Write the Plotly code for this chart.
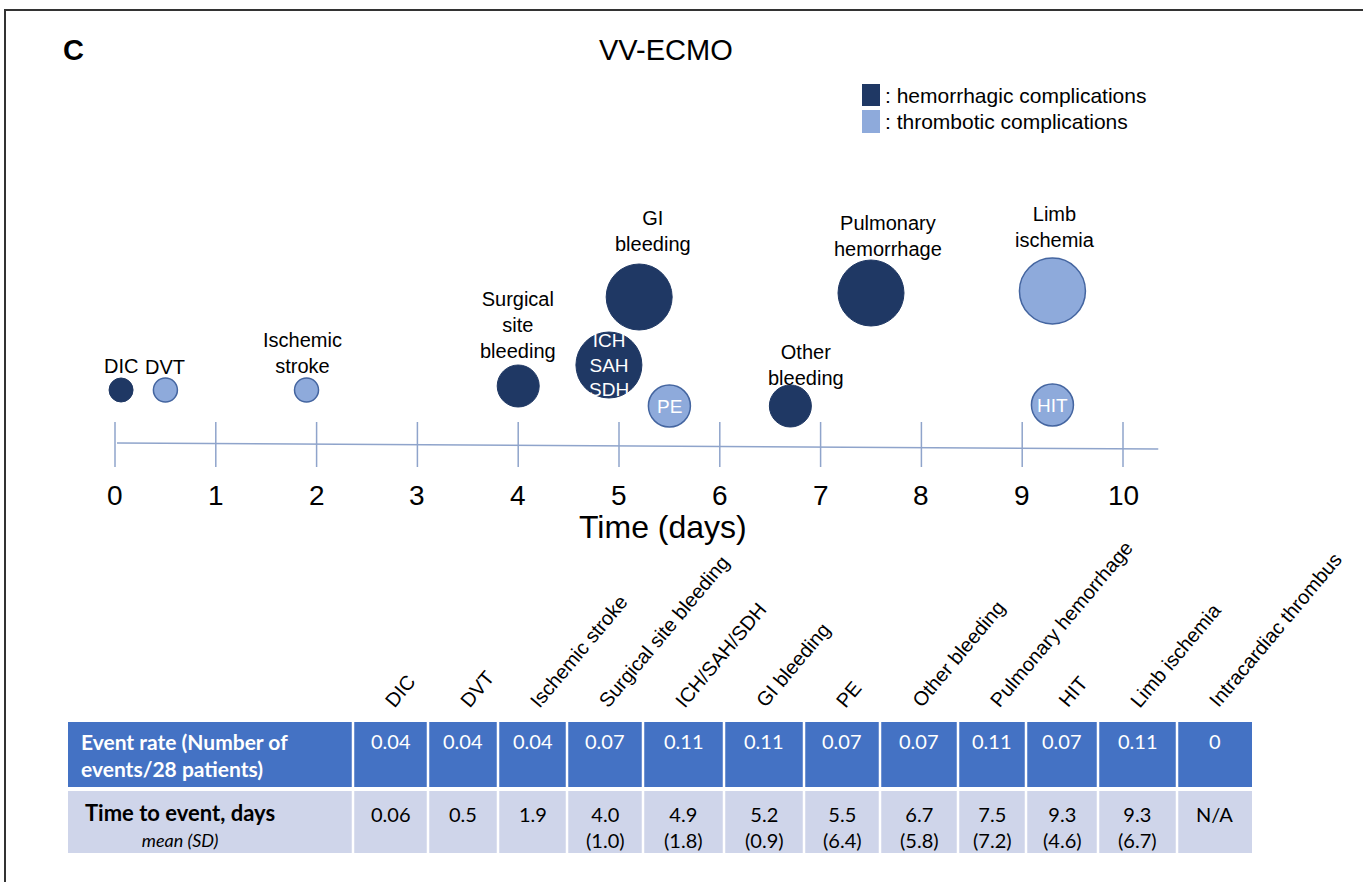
import plotly.graph_objects as go

W, H = 1363, 882

# ---- data -------------------------------------------------------------
events = ["DIC", "DVT", "Ischemic stroke", "Surgical site bleeding", "ICH/SAH/SDH",
          "GI bleeding", "PE", "Other bleeding", "Pulmonary hemorrhage", "HIT",
          "Limb ischemia", "Intracardiac thrombus"]
kind = ["hem", "thr", "thr", "hem", "hem", "hem", "thr", "hem", "hem", "thr", "thr", "thr"]
event_rate = [0.04, 0.04, 0.04, 0.07, 0.11, 0.11, 0.07, 0.07, 0.11, 0.07, 0.11, 0]
rate_text = ["0.04", "0.04", "0.04", "0.07", "0.11", "0.11", "0.07", "0.07", "0.11", "0.07", "0.11", "0"]
mean_days = [0.06, 0.5, 1.9, 4.0, 4.9, 5.2, 5.5, 6.7, 7.5, 9.3, 9.3, None]
sd_days = [None, None, None, 1.0, 1.8, 0.9, 6.4, 5.8, 7.2, 4.6, 6.7, None]
day_ticks = list(range(0, 11))

# ---- styling / placement ----------------------------------------------
DARK = "#1F3864"
LIGHT = "#8EAADB"
LIGHT_EDGE = "#4465A0"
AXIS_BLUE = "#8FA4CB"
ARIAL = "Liberation Sans, Arial, sans-serif"
TABLE_FONT = "Lato, Open Sans, sans-serif"

X0_PX, DAY_PX = 115, 100.8          # horizontal scale of the timeline


def xp(px):
    return px / W


# vertical placement of each bubble (figure pixels)
bubble_y = {"DIC": 390, "DVT": 390, "Ischemic stroke": 390, "Surgical site bleeding": 386,
            "ICH/SAH/SDH": 365, "GI bleeding": 297, "PE": 406, "Other bleeding": 406,
            "Pulmonary hemorrhage": 293, "HIT": 405, "Limb ischemia": 291}
# caption text, vertical centre, horizontal nudge in pixels
captions = {"DIC": ("DIC", 366, 0), "DVT": ("DVT", 367, 0),
            "Ischemic stroke": ("Ischemic<br>stroke", 353, -4),
            "Surgical site bleeding": ("Surgical<br>site<br>bleeding", 325, 0),
            "GI bleeding": ("GI<br>bleeding", 231, 14),
            "Other bleeding": ("Other<br>bleeding", 365, 16),
            "Pulmonary hemorrhage": ("Pulmonary<br>hemorrhage", 236, 17),
            "Limb ischemia": ("Limb<br>ischemia", 227, 3)}
inside = {"ICH/SAH/SDH": "ICH<br>SAH<br>SDH", "PE": "PE", "HIT": "HIT"}

fig = go.Figure()

# ---- bubbles -----------------------------------------------------------
for k, fill, edge, ew in [("hem", DARK, DARK, 1), ("thr", LIGHT, LIGHT_EDGE, 1.5)]:
    idx = [i for i in range(len(events)) if kind[i] == k and event_rate[i] > 0]
    fig.add_trace(go.Scatter(
        x=[mean_days[i] for i in idx],
        y=[bubble_y[events[i]] for i in idx],
        mode="markers",
        marker=dict(size=[event_rate[i] for i in idx], sizemode="diameter",
                    sizeref=1 / 600, color=fill, line=dict(color=edge, width=ew),
                    opacity=1),
        hoverinfo="skip", showlegend=False))

annotations = []
shapes = []

for i, ev in enumerate(events):
    if event_rate[i] == 0:
        continue
    if ev in captions:
        txt, yc, dx = captions[ev]
        annotations.append(dict(x=mean_days[i], y=yc, xref="x", yref="y", text=txt,
                                xshift=dx, showarrow=False,
                                font=dict(family=ARIAL, size=20, color="black"),
                                xanchor="center", yanchor="middle"))
    if ev in inside:
        annotations.append(dict(x=mean_days[i], y=bubble_y[ev], xref="x", yref="y",
                                text=inside[ev], showarrow=False,
                                font=dict(family=ARIAL, size=19, color="white"),
                                xanchor="center", yanchor="middle"))

# ---- timeline axis -----------------------------------------------------
shapes.append(dict(type="line", xref="x", yref="y", x0=0.02, x1=10.35, y0=443, y1=449,
                   line=dict(color=AXIS_BLUE, width=1.5)))
for d in day_ticks:
    shapes.append(dict(type="line", xref="x", yref="y", x0=d, x1=d, y0=422, y1=467,
                       line=dict(color=AXIS_BLUE, width=1.5)))
    annotations.append(dict(x=d, y=495, xref="x", yref="y", text=str(d), showarrow=False,
                            font=dict(family=ARIAL, size=28, color="black"),
                            xanchor="center", yanchor="middle"))
annotations.append(dict(x=xp(663), y=527, xref="paper", yref="y", text="Time (days)",
                        showarrow=False, font=dict(family=ARIAL, size=32, color="black"),
                        xanchor="center", yanchor="middle"))

# ---- titles and legend -------------------------------------------------
annotations.append(dict(x=xp(61), y=50, xref="paper", yref="y", text="<b>C</b>",
                        showarrow=False, font=dict(family=ARIAL, size=29, color="black"),
                        xanchor="left", yanchor="middle"))
annotations.append(dict(x=xp(666), y=50, xref="paper", yref="y", text="VV-ECMO",
                        showarrow=False, font=dict(family=ARIAL, size=29, color="black"),
                        xanchor="center", yanchor="middle"))
for (y0, y1, col, label) in [(84, 106, DARK, ": hemorrhagic complications"),
                             (110, 133, LIGHT, ": thrombotic complications")]:
    shapes.append(dict(type="rect", xref="paper", yref="y", x0=xp(862), x1=xp(880),
                       y0=y0, y1=y1, fillcolor=col, line=dict(width=0)))
    annotations.append(dict(x=xp(883), y=(y0 + y1) / 2, xref="paper", yref="y", text=label,
                            showarrow=False, font=dict(family=ARIAL, size=21, color="black"),
                            xanchor="left", yanchor="middle"))

# ---- summary table -----------------------------------------------------
col_edges = [68, 353, 428, 498, 567, 643, 724, 804, 880, 958, 1026, 1098, 1177, 1252]
ROW1 = (722, 787)
ROW2 = (791, 853)
shapes.append(dict(type="rect", xref="paper", yref="y", x0=xp(col_edges[0]),
                   x1=xp(col_edges[-1]), y0=ROW1[0], y1=ROW1[1],
                   fillcolor="#4472C4", line=dict(width=0), layer="below"))
shapes.append(dict(type="rect", xref="paper", yref="y", x0=xp(col_edges[0]),
                   x1=xp(col_edges[-1]), y0=ROW2[0], y1=ROW2[1],
                   fillcolor="#CFD5EA", line=dict(width=0), layer="below"))
for e in col_edges[1:-1]:
    shapes.append(dict(type="line", xref="paper", yref="y", x0=xp(e), x1=xp(e),
                       y0=ROW1[0], y1=ROW2[1], line=dict(color="white", width=2.5)))


def cell_text(x, y, text, color, size=20, anchor="center", align="center"):
    annotations.append(dict(x=x, y=y, xref="paper", yref="y", text=text, showarrow=False,
                            align=align,
                            font=dict(family=TABLE_FONT, size=size, color=color),
                            xanchor=anchor, yanchor="top"))


cell_text(xp(79), ROW1[0] + 5, "<b>Event rate (Number of<br>events/28 patients)</b>",
          "white", 21, "left", "left")
cell_text(xp(180), ROW2[0] + 6,
          "<b><span style='font-size:22px'>Time to event, days</span></b><br>"
          "<i><span style='font-size:18px'>mean (SD)</span></i>",
          "black", 20)

for i, ev in enumerate(events):
    left, right = col_edges[i + 1], col_edges[i + 2]
    cx = xp((left + right) / 2)
    cell_text(cx, ROW1[0] + 5, rate_text[i], "white", 20)
    if mean_days[i] is None:
        t = "N/A"
    elif sd_days[i] is None:
        t = f"{mean_days[i]:g}"
    else:
        t = f"{mean_days[i]:.1f}<br>({sd_days[i]:.1f})"
    cell_text(cx, ROW2[0] + 9, t, "black", 20)
    annotations.append(dict(x=xp(left + 25), y=714, xref="paper", yref="y", text=ev,
                            textangle=-50, showarrow=False,
                            font=dict(family=ARIAL, size=20, color="black"),
                            xanchor="left", yanchor="bottom"))

# ---- frame -------------------------------------------------------------
shapes.append(dict(type="rect", xref="paper", yref="y", x0=xp(5), x1=xp(W + 20),
                   y0=10, y1=H + 20, line=dict(color="#333333", width=2),
                   fillcolor="rgba(0,0,0,0)"))

fig.update_layout(
    width=W, height=H,
    margin=dict(l=0, r=0, t=0, b=0),
    paper_bgcolor="white", plot_bgcolor="white",
    xaxis=dict(range=[-X0_PX / DAY_PX, (W - X0_PX) / DAY_PX], visible=False, fixedrange=True),
    yaxis=dict(range=[H, 0], visible=False, fixedrange=True),
    shapes=shapes, annotations=annotations, showlegend=False,
)

fig.write_html("out.html")
